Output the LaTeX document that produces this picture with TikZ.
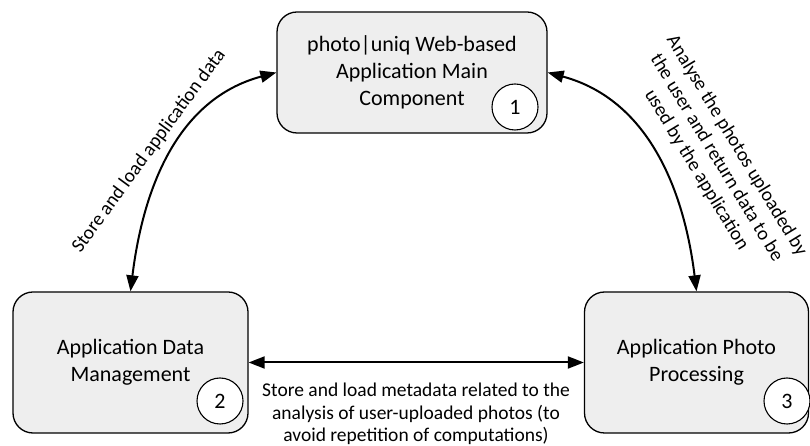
\documentclass[tikz,border=0pt]{standalone}
\usepackage{fontspec}
\setmainfont{Carlito}
\usetikzlibrary{arrows.meta}

\tikzset{
  compbox/.style={draw=black, line width=1.3pt, fill=gray!13, rounded corners=20pt,
    inner sep=0pt, align=center, font=\fontsize{22}{27}\selectfont},
  badge/.style={circle, draw=black, line width=1.1pt, fill=white, inner sep=0pt,
    minimum size=46pt, font=\fontsize{22}{27}\selectfont},
  link/.style={line width=2pt, {Triangle[length=16pt,width=12pt]}-{Triangle[length=16pt,width=12pt]}},
  linklabel/.style={align=center, inner sep=0pt, font=\fontsize{19.5}{23.5}\selectfont}
}

\begin{document}
\begin{tikzpicture}[x=1pt,y=1pt]
  \useasboundingbox (0,0) rectangle (810,446);

  % the three components
  \node[compbox, minimum width=270pt, minimum height=121pt] (main) at (412,373.5)
    {photo|uniq Web-based\\Application Main\\Component};
  \node[compbox, minimum width=235pt, minimum height=141pt] (data) at (130.5,83.5)
    {Application Data\\Management};
  \node[compbox, minimum width=224pt, minimum height=141pt] (proc) at (696.5,83.5)
    {Application Photo\\Processing};

  % numbered badges
  \node[badge] (b1) at (515,339) {1};
  \node[badge] (b2) at (220,45) {2};
  \node[badge] (b3) at (787,45) {3};

  % connectors
  \draw[link] (main.west) to[out=195, in=83] (data.north);
  \draw[link] (main.east) to[out=-15, in=97] (proc.north);
  \draw[link] (data.east) -- (proc.west);

  % connector labels
  \node[linklabel, rotate=53.8] (l1) at (149,295) {Store and load application data};
  \node[linklabel, rotate=-58.8] (l2) at (716.5,288)
    {Analyse the photos uploaded by\\the user and return data to be\\used by the application};
  \node[linklabel, font=\fontsize{19.5}{22.5}\selectfont] (l3) at (416,32)
    {Store and load metadata related to the\\analysis of user-uploaded photos (to\\avoid repetition of computations)};
\end{tikzpicture}
\end{document}
